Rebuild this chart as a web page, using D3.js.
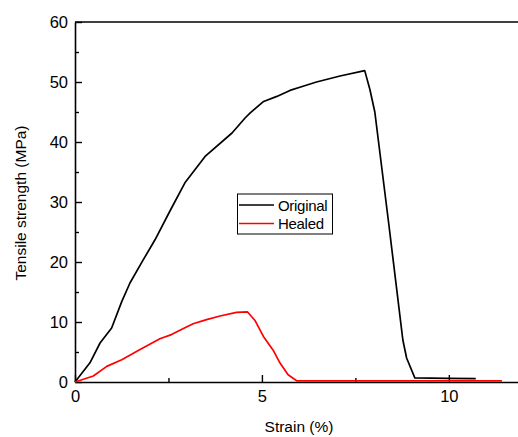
<!DOCTYPE html>
<html><head><meta charset="utf-8">
<script src="https://cdn.jsdelivr.net/npm/d3@7"></script>
<style>
body{margin:0;background:#fff;}
text{font-family:Arial,"Liberation Sans",sans-serif;fill:#000;}
</style></head>
<body><svg id="c" width="518" height="437"></svg>
<script>
const xTicks=[0,5,10];
const yTicks=[0,10,20,30,40,50,60];
const seriesNames=["Original","Healed"];
const seriesColors=["#000000","#ff0000"];
const originalX=[0,0.4,0.67,0.98,1.25,1.47,1.82,2.14,2.54,2.94,3.48,4.2,4.55,4.68,5.03,5.4,5.75,6.1,6.46,7.09,7.75,7.89,8.02,8.4,8.77,8.87,9.09,9.97,10.72];
const originalY=[0,3.2,6.5,9,13.4,16.5,20.3,23.7,28.5,33.2,37.6,41.5,44,44.8,46.7,47.6,48.6,49.3,50,51,51.9,48.7,45,26,7,4,0.7,0.6,0.55];
const healedX=[0,0.49,0.85,1.25,1.74,2.27,2.58,2.9,3.16,3.52,3.88,4.32,4.61,4.81,5.04,5.3,5.48,5.7,5.93,7,9,11.42];
const healedY=[0,1,2.6,3.7,5.4,7.2,7.9,8.9,9.7,10.4,11,11.6,11.7,10.3,7.6,5.3,3.2,1.2,0.2,0.2,0.2,0.2];

const svg=d3.select("#c");
const x=d3.scaleLinear().domain([0,11.85]).range([75,518]);
const y=d3.scaleLinear().domain([0,60]).range([382,22]);

// frame top line
svg.append("line").attr("x1",75).attr("x2",518).attr("y1",y(60)).attr("y2",y(60)).attr("stroke","#000").attr("stroke-width",1.6);

// minor ticks
svg.append("g").attr("transform","translate(0,382)")
  .call(d3.axisBottom(x).tickValues([2.5,7.5]).tickSize(-4).tickFormat(""))
  .call(g=>{g.select(".domain").remove();g.selectAll("line").attr("stroke-width",1.4);});
svg.append("g").attr("transform","translate(75,0)")
  .call(d3.axisLeft(y).tickValues([5,15,25,35,45,55]).tickSize(-4).tickFormat(""))
  .call(g=>{g.select(".domain").remove();g.selectAll("line").attr("stroke-width",1.4);});

// major axes
const xa=svg.append("g").attr("transform","translate(0,382)")
  .call(d3.axisBottom(x).tickValues(xTicks).tickSizeInner(-7).tickSizeOuter(0).tickPadding(8).tickFormat(d3.format("d")));
const ya=svg.append("g").attr("transform","translate(75,0)")
  .call(d3.axisLeft(y).tickValues(yTicks).tickSizeInner(-7).tickSizeOuter(0).tickPadding(7).tickFormat(d3.format("d")));
[xa,ya].forEach(g=>{
  g.select(".domain").attr("stroke-width",1.6);
  g.selectAll("line").attr("stroke-width",1.4);
  g.selectAll("text").attr("font-size",16.5).attr("font-family","Arial, 'Liberation Sans', sans-serif");
});

// lines
const line=d3.line().x(d=>x(d[0])).y(d=>y(d[1]));
const data=[d3.zip(originalX,originalY),d3.zip(healedX,healedY)];
data.forEach((d,i)=>{
  svg.append("path").datum(d).attr("d",line).attr("fill","none")
    .attr("stroke",seriesColors[i]).attr("stroke-width",1.7).attr("stroke-linejoin","round");
});

// axis titles
svg.append("text").attr("x",299).attr("y",432).attr("text-anchor","middle").attr("font-size",15.5).text("Strain (%)");
svg.append("text").attr("transform","translate(26,203) rotate(-90)").attr("text-anchor","middle").attr("font-size",15.5).text("Tensile strength (MPa)");

// legend
const lg=svg.append("g");
lg.append("rect").attr("x",237.5).attr("y",194).attr("width",95).attr("height",40).attr("fill","#fff").attr("stroke","#000").attr("stroke-width",1);
seriesNames.forEach((n,i)=>{
  const yy=205+i*18.5;
  lg.append("line").attr("x1",239).attr("x2",274).attr("y1",yy).attr("y2",yy).attr("stroke",seriesColors[i]).attr("stroke-width",1.7);
  lg.append("text").attr("x",278).attr("y",yy+5.5).attr("font-size",15).attr("letter-spacing",-0.3).text(n);
});
</script></body></html>
